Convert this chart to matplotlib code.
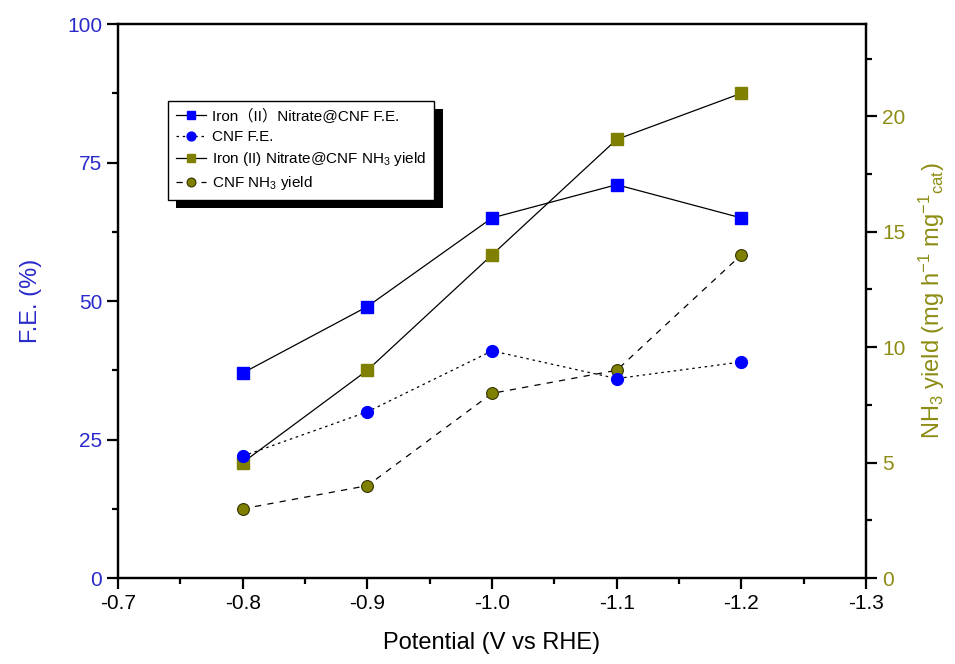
import matplotlib
matplotlib.use("Agg")
import matplotlib.pyplot as plt
from matplotlib import patheffects
from matplotlib.ticker import MultipleLocator, FormatStrFormatter

plt.rcParams['font.family'] = ['Liberation Sans', 'Noto Sans CJK SC', 'DejaVu Sans']
plt.rcParams['mathtext.fontset'] = 'custom'
plt.rcParams['mathtext.rm'] = 'Liberation Sans'
plt.rcParams['mathtext.it'] = 'Liberation Sans'
plt.rcParams['mathtext.default'] = 'regular'

potential = [-0.8, -0.9, -1.0, -1.1, -1.2]
fe_iron = [37, 49, 65, 71, 65]
fe_cnf = [22, 30, 41, 36, 39]
nh3_iron = [5, 9, 14, 19, 21]
nh3_cnf = [3, 4, 8, 9, 14]

blue = '#0000ff'
olive = '#808000'
blue_txt = '#2a2acc'
olive_txt = '#8c8c14'

fig = plt.figure(figsize=(9.55, 6.64), dpi=100)
ax = fig.add_axes([0.1236, 0.1295, 0.7832, 0.8343])
ax2 = ax.twinx()

l1, = ax.plot(potential, fe_iron, '-', color='k', lw=0.9, marker='s', ms=8.5,
              mfc=blue, mec=blue, label='Iron（II）Nitrate@CNF F.E.')
l2, = ax.plot(potential, fe_cnf, color='k', lw=0.9, ls=(0, (2, 3)), marker='o', ms=8.5,
              mfc=blue, mec=blue, label='CNF F.E.')
l3, = ax2.plot(potential, nh3_iron, '-', color='k', lw=0.9, marker='s', ms=8.5,
               mfc=olive, mec=olive, label='Iron (II) Nitrate@CNF NH$_3$ yield')
l4, = ax2.plot(potential, nh3_cnf, color='k', lw=0.9, ls=(0, (5, 5)), marker='o', ms=8.5,
               mfc=olive, mec='#333300', mew=0.8, label='CNF NH$_3$ yield')

ax.set_xlim(-0.7, -1.3)
ax.set_ylim(0, 100)
ax2.set_ylim(0, 24)

ax.xaxis.set_major_locator(MultipleLocator(0.1))
ax.xaxis.set_minor_locator(MultipleLocator(0.05))
ax.yaxis.set_major_locator(MultipleLocator(25))
ax.yaxis.set_minor_locator(MultipleLocator(12.5))
ax2.yaxis.set_major_locator(MultipleLocator(5))
ax2.yaxis.set_minor_locator(MultipleLocator(2.5))
ax.xaxis.set_major_formatter(FormatStrFormatter('%.1f'))

for a in (ax, ax2):
    for s in a.spines.values():
        s.set_linewidth(1.6)
    a.tick_params(which='major', direction='out', length=8, width=1.6, labelsize=15)
    a.tick_params(which='minor', direction='out', length=4, width=1.6)

ax.tick_params(axis='y', colors='k', labelcolor=blue_txt)
ax2.tick_params(axis='y', colors='k', labelcolor=olive_txt)

ax.set_xlabel('Potential (V vs RHE)', fontsize=17, labelpad=14)
ax.set_ylabel('F.E. (%)', fontsize=17, color=blue_txt, labelpad=18)
ax2.set_ylabel('NH$_3$ yield (mg h$^{-1}$ mg$^{-1}$$_{cat}$)', fontsize=17,
               color=olive_txt, labelpad=8)

leg = ax.legend(handles=[l1, l2, l3, l4], loc='upper left',
                bbox_to_anchor=(0.067, 0.861), borderaxespad=0, fontsize=11,
                fancybox=False, edgecolor='k', framealpha=1, handlelength=2.0,
                handletextpad=0.4, labelspacing=0.4, borderpad=0.5, markerscale=0.75)
leg.get_frame().set_linewidth(1.0)
leg.legendPatch.set_path_effects([
    patheffects.SimplePatchShadow(offset=(6, -6), shadow_rgbFace='k', alpha=1),
    patheffects.Normal()])
leg.set_zorder(10)
ax.set_zorder(ax2.get_zorder() + 1)
ax.patch.set_visible(False)

fig.savefig('out.png', dpi=100)
